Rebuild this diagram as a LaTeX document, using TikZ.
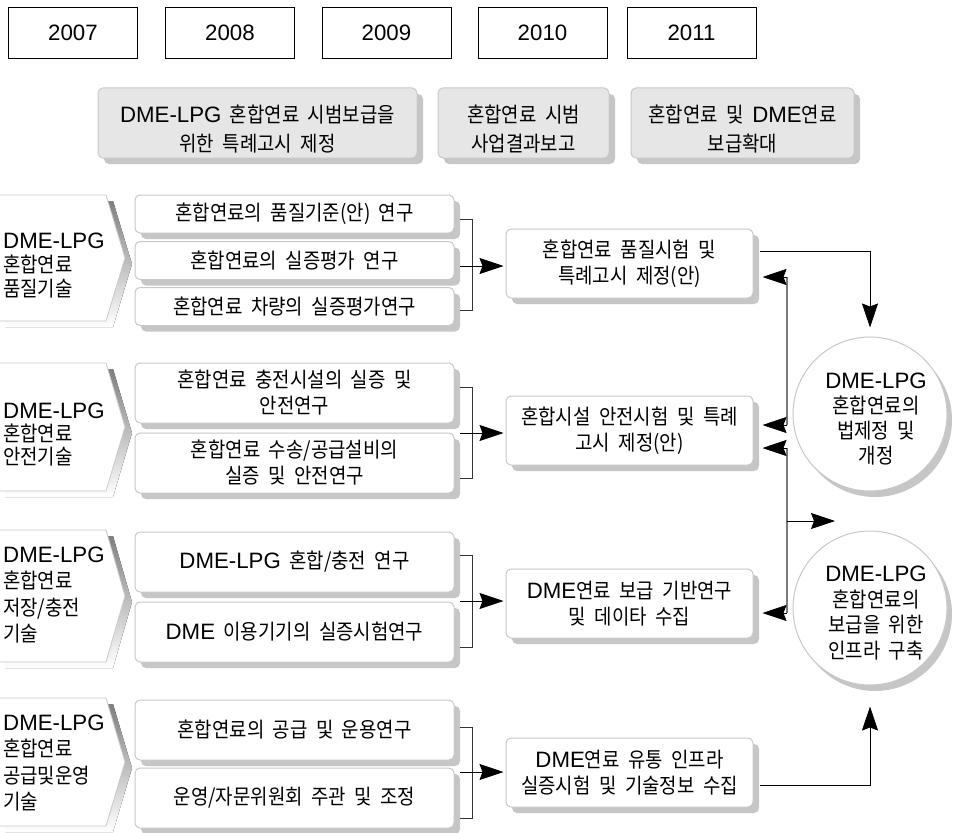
\documentclass[tikz,border=0pt]{standalone}
\usepackage{fontspec}
\setmainfont{Noto Sans CJK KR}[WordSpace=2.0, FakeStretch=0.9]
\newfontfamily\lat{Liberation Sans}[Scale=1.06]
\usetikzlibrary{arrows.meta,shadows,calc}
\definecolor{boxline}{HTML}{C8C8C8}
\definecolor{shade}{HTML}{C6C6C6}
\definecolor{grayfill}{HTML}{E6E6E6}
\definecolor{fbgray}{HTML}{7A7A7A}
\newcommand{\mychev}[2]{%
  \fill[shade] (5,#1+6) -- (113,#1+6) -- (132,{(#1+#2)/2+6}) -- (113,#2+6) -- (5,#2+6) -- cycle;
  \filldraw[draw=boxline, line width=0.8pt, fill=white] (-3,#1) -- (106,#1) -- (125,{(#1+#2)/2}) -- (106,#2) -- (-3,#2) -- cycle;}
\begin{document}
\begin{tikzpicture}[x=1pt,y=-1pt,
  every node/.style={font=\fontsize{21}{26}\selectfont, align=center, inner sep=0pt},
  yearbox/.style={draw=black, line width=0.9pt, fill=white, minimum width=129pt, minimum height=51pt},
  shbox/.style={rounded corners=5pt, draw=boxline, line width=1pt, fill=white,
     drop shadow={shadow xshift=6pt, shadow yshift=-6pt, fill=shade, opacity=1}},
  graybox/.style={shbox, fill=grayfill, minimum height=70pt},
  graytext/.style={font=\fontsize{21}{28.5}\selectfont},
  taskbox/.style={shbox, minimum width=319pt},
  resbox/.style={shbox, minimum width=247pt, minimum height=69pt},
  circ/.style={circle, draw=boxline, line width=1pt, fill=white, minimum size=154pt,
     drop shadow={shadow xshift=5pt, shadow yshift=-6pt, fill=shade, opacity=1}},
  chevtext/.style={anchor=west, align=left},
  arr/.style={-{Stealth[length=24pt,width=16pt,inset=3pt]}, line width=0.8pt, black},
  brk/.style={line width=0.8pt, black!80},
  fb/.style={line width=1.6pt, fbgray}]
\useasboundingbox (0,0) rectangle (955,832);
\fill[white] (0,0) rectangle (955,832);

% years
\node[yearbox] (y1) at (73,32.5) {\lat 2007};
\node[yearbox] (y2) at (230,32.5) {\lat 2008};
\node[yearbox] (y3) at (386.5,32.5) {\lat 2009};
\node[yearbox] (y4) at (542.5,32.5) {\lat 2010};
\node[yearbox] (y5) at (691.5,32.5) {\lat 2011};

% milestones
\node[graybox, minimum width=319pt] (g1) at (257.5,123) {};
\node[graybox, minimum width=171pt] (g2) at (523.5,123) {};
\node[graybox, minimum width=223pt] (g3) at (742.5,123) {};
\node[graytext] (g1t) at (257.5,129) {{\lat DME-LPG} 혼합연료 시범보급을\\위한 특례고시 제정};
\node[graytext] (g2t) at (523.5,129) {혼합연료 시범\\사업결과보고};
\node[graytext] (g3t) at (742.5,129) {혼합연료 및 {\lat DME}연료\\보급확대};

% chevrons
\mychev{195}{321}
\mychev{363}{491}
\mychev{530}{662}
\mychev{698}{826}
\node[chevtext, font=\fontsize{21}{24}\selectfont] (ch1) at (3,266) {{\lat DME-LPG}\\혼합연료\\품질기술};
\node[chevtext, font=\fontsize{21}{23}\selectfont] (ch2) at (3,435) {{\lat DME-LPG}\\혼합연료\\안전기술};
\node[chevtext, font=\fontsize{21}{26.5}\selectfont] (ch3) at (3,595) {{\lat DME-LPG}\\혼합연료\\저장/충전\\기술};
\node[chevtext, font=\fontsize{21}{26.5}\selectfont] (ch4) at (3,763) {{\lat DME-LPG}\\혼합연료\\공급및운영\\기술};

% tasks
\node[taskbox, minimum height=38pt] (t1a) at (294.5,214) {혼합연료의 품질기준(안) 연구};
\node[taskbox, minimum height=38pt] (t1b) at (294.5,260.5) {혼합연료의 실증평가 연구};
\node[taskbox, minimum height=38pt] (t1c) at (294.5,306.5) {혼합연료 차량의 실증평가연구};
\node[taskbox, minimum height=60pt] (t2a) at (294.5,393) {혼합연료 충전시설의 실증 및\\안전연구};
\node[taskbox, minimum height=60pt] (t2b) at (294.5,463) {혼합연료 수송/공급설비의\\실증 및 안전연구};
\node[taskbox, minimum height=60pt] (t3a) at (294.5,562) {{\lat DME-LPG} 혼합/충전 연구};
\node[taskbox, minimum height=60pt] (t3b) at (294.5,632) {{\lat DME} 이용기기의 실증시험연구};
\node[taskbox, minimum height=60pt] (t4a) at (294.5,730) {혼합연료의 공급 및 운용연구};
\node[taskbox, minimum height=60pt] (t4b) at (294.5,798) {운영/자문위원회 주관 및 조정};

% results
\node[resbox] (r1) at (629.5,263.5) {혼합연료 품질시험 및\\특례고시 제정(안)};
\node[resbox] (r2) at (629.5,430.5) {혼합시설 안전시험 및 특례\\고시 제정(안)};
\node[resbox] (r3) at (629.5,603.5) {{\lat DME}연료 보급 기반연구\\및 데이타 수집};
\node[resbox] (r4) at (629.5,772.5) {{\lat DME}연료 유통 인프라\\실증시험 및 기술정보 수집};

% circles
\node[circ] (c1) at (870,414) {};
\node[font=\fontsize{21}{25}\selectfont] (c1t) at (876,419) {{\lat DME-LPG}\\혼합연료의\\법제정 및\\개정};
\node[circ] (c2) at (870,608) {};
\node[font=\fontsize{21}{25.5}\selectfont] (c2t) at (876,613) {{\lat DME-LPG}\\혼합연료의\\보급을 위한\\인프라 구축};

% brackets
\coordinate (b1t) at (472,219); \coordinate (b1b) at (472,310); \coordinate (b1m) at (460,266);
\coordinate (b2t) at (472,387); \coordinate (b2b) at (472,478); \coordinate (b2m) at (460,433);
\coordinate (b3t) at (472,555); \coordinate (b3b) at (472,647); \coordinate (b3m) at (460,601);
\coordinate (b4t) at (472,727); \coordinate (b4b) at (472,818); \coordinate (b4m) at (460,772);
\foreach \b in {b1,b2,b3,b4}{
  \draw[brk] ([xshift=-12pt]\b t) -- (\b t) -- (\b b) -- ([xshift=-12pt]\b b);
}
\draw[arr, shorten >=2pt] (b1m) -- (b1m -| r1.west);
\draw[arr, shorten >=2pt] (b2m) -- (b2m -| r2.west);
\draw[arr, shorten >=2pt] (b3m) -- (b3m -| r3.west);
\draw[arr, shorten >=2pt] (b4m) -- (b4m -| r4.west);

% outputs to circles
\coordinate (o1) at (760,251);
\coordinate (o4) at (760,785);
\draw[arr] (o1) -| ([yshift=9pt]c1.north);
\draw[arr] (o4) -| ([yshift=-21pt]c2.south);

% feedback
\coordinate (f1) at (787,277); \coordinate (f2) at (787,425);
\coordinate (f3) at (787,448); \coordinate (f4) at (787,613);
\coordinate (f5) at (787,521); \coordinate (f6) at (835,521);
\draw[fb] (f1) -- (f2);
\draw[fb] (f3) -- (f4);
\draw[arr, shorten >=9pt] (f1) -- (f1 -| r1.east);
\draw[arr, shorten >=9pt] (f2) -- (f2 -| r2.east);
\draw[arr, shorten >=9pt] (f3) -- (f3 -| r2.east);
\draw[arr, shorten >=9pt] (f4) -- (f4 -| r3.east);
\draw[arr] (f5) -- (f6);
\end{tikzpicture}
\end{document}
